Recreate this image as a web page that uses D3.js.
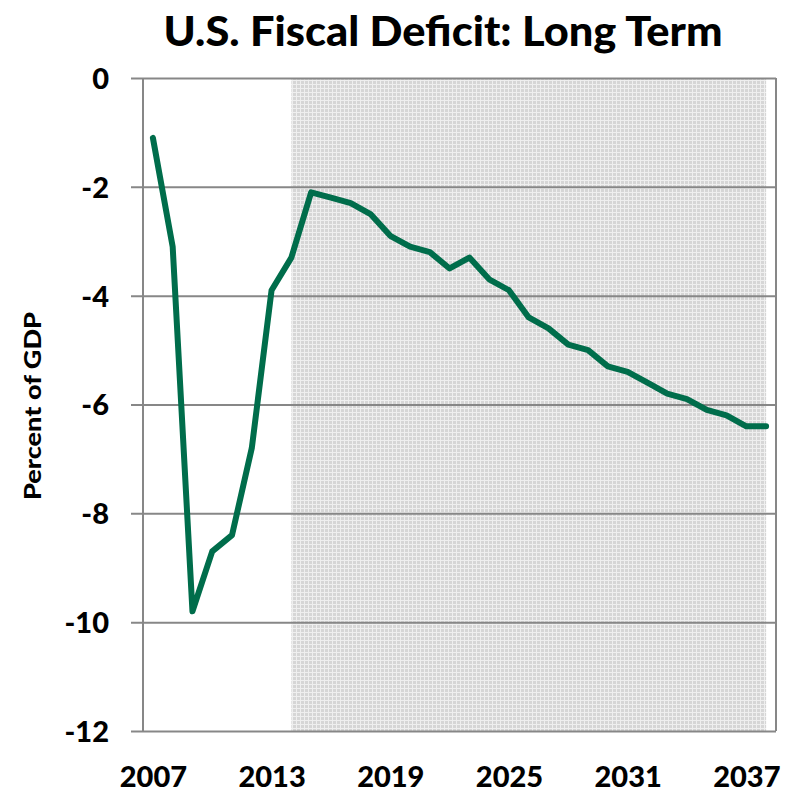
<!DOCTYPE html>
<html>
<head>
<meta charset="utf-8">
<script src="https://cdn.jsdelivr.net/npm/d3@7"></script>
<style>
  html, body { margin: 0; padding: 0; background: #fff; }
  svg { display: block; }
  text { font-family: Lato, "Open Sans", "Liberation Sans", sans-serif; font-weight: 900; fill: #000; }
</style>
</head>
<body>
<svg id="chart" width="791" height="796"></svg>
<script>
// Federal deficit as a share of GDP, actuals then projections
const years = d3.range(2007, 2039);
const deficit = [
  -1.1, -3.1, -9.8, -8.7, -8.4, -6.8, -3.9, -3.3, -2.1, -2.2,
  -2.3, -2.5, -2.9, -3.1, -3.2, -3.5, -3.3, -3.7, -3.9, -4.4,
  -4.6, -4.9, -5.0, -5.3, -5.4, -5.6, -5.8, -5.9, -6.1, -6.2,
  -6.4, -6.4
];
const yTicks = [0, -2, -4, -6, -8, -10, -12];
const xTickLabels = [2007, 2013, 2019, 2025, 2031, 2037];
const projectionSpan = [2014, 2038];

const svg = d3.select("#chart");
const plot = { left: 143, right: 776, top: 78, bottom: 731 };

const x = d3.scalePoint().domain(years).range([plot.left, plot.right]).padding(0.5);
const y = d3.scaleLinear().domain([-12, 0]).range([plot.bottom, plot.top]);

// Dotted fill for the projection period
const defs = svg.append("defs");
const pat = defs.append("pattern")
  .attr("id", "dots").attr("patternUnits", "userSpaceOnUse")
  .attr("width", 4).attr("height", 4);
pat.append("rect").attr("width", 4).attr("height", 4).attr("fill", "#d6d6d6");
pat.append("rect").attr("width", 4).attr("height", 1).attr("fill", "#efefef");
pat.append("rect").attr("width", 1).attr("height", 4).attr("fill", "#efefef");

svg.append("rect")
  .attr("x", x(projectionSpan[0]))
  .attr("y", plot.top)
  .attr("width", x(projectionSpan[1]) - x(projectionSpan[0]))
  .attr("height", plot.bottom - plot.top)
  .attr("fill", "url(#dots)");

// Horizontal gridlines with outer ticks on the left
const yAxis = d3.axisLeft(y).tickValues(yTicks)
  .tickFormat(d => String(d))
  .tickSize(-(plot.right - plot.left)).tickSizeOuter(0);
const gy = svg.append("g").attr("transform", `translate(${plot.left},0)`).call(yAxis);
gy.select(".domain").remove();
gy.selectAll(".tick line").attr("stroke", "#878787").attr("stroke-width", 2)
  .attr("x1", -12);
gy.selectAll(".tick text")
  .attr("x", -34)
  .style("font-size", "29px")
  .attr("dy", "0.36em");

// Left and right frame lines
svg.append("line").attr("x1", plot.left).attr("x2", plot.left)
  .attr("y1", plot.top).attr("y2", plot.bottom)
  .attr("stroke", "#878787").attr("stroke-width", 2);
svg.append("line").attr("x1", plot.right).attr("x2", plot.right)
  .attr("y1", plot.top).attr("y2", plot.bottom)
  .attr("stroke", "#878787").attr("stroke-width", 2);

// Year labels along the bottom
const xAxis = d3.axisBottom(x).tickValues(xTickLabels)
  .tickFormat(d => String(d)).tickSize(0).tickPadding(35);
const gx = svg.append("g").attr("transform", `translate(0,${plot.bottom})`).call(xAxis);
gx.select(".domain").remove();
gx.selectAll(".tick text").style("font-size", "29px");

// Deficit line
const line = d3.line().x((d, i) => x(years[i])).y(d => y(d));
svg.append("path")
  .datum(deficit)
  .attr("d", line)
  .attr("fill", "none")
  .attr("stroke", "#006d4b")
  .attr("stroke-width", 6)
  .attr("stroke-linejoin", "round")
  .attr("stroke-linecap", "round");

// Title
svg.append("text")
  .attr("x", 443).attr("y", 46)
  .attr("text-anchor", "middle")
  .attr("textLength", 559)
  .attr("lengthAdjust", "spacingAndGlyphs")
  .style("font-size", "41px")
  .text("U.S. Fiscal Deficit: Long Term");

// Y-axis label
svg.append("text")
  .attr("transform", "translate(41,406) rotate(-90)")
  .attr("text-anchor", "middle")
  .attr("textLength", 188)
  .attr("lengthAdjust", "spacingAndGlyphs")
  .style("font-size", "23px")
  .text("Percent of GDP");
</script>
</body>
</html>
